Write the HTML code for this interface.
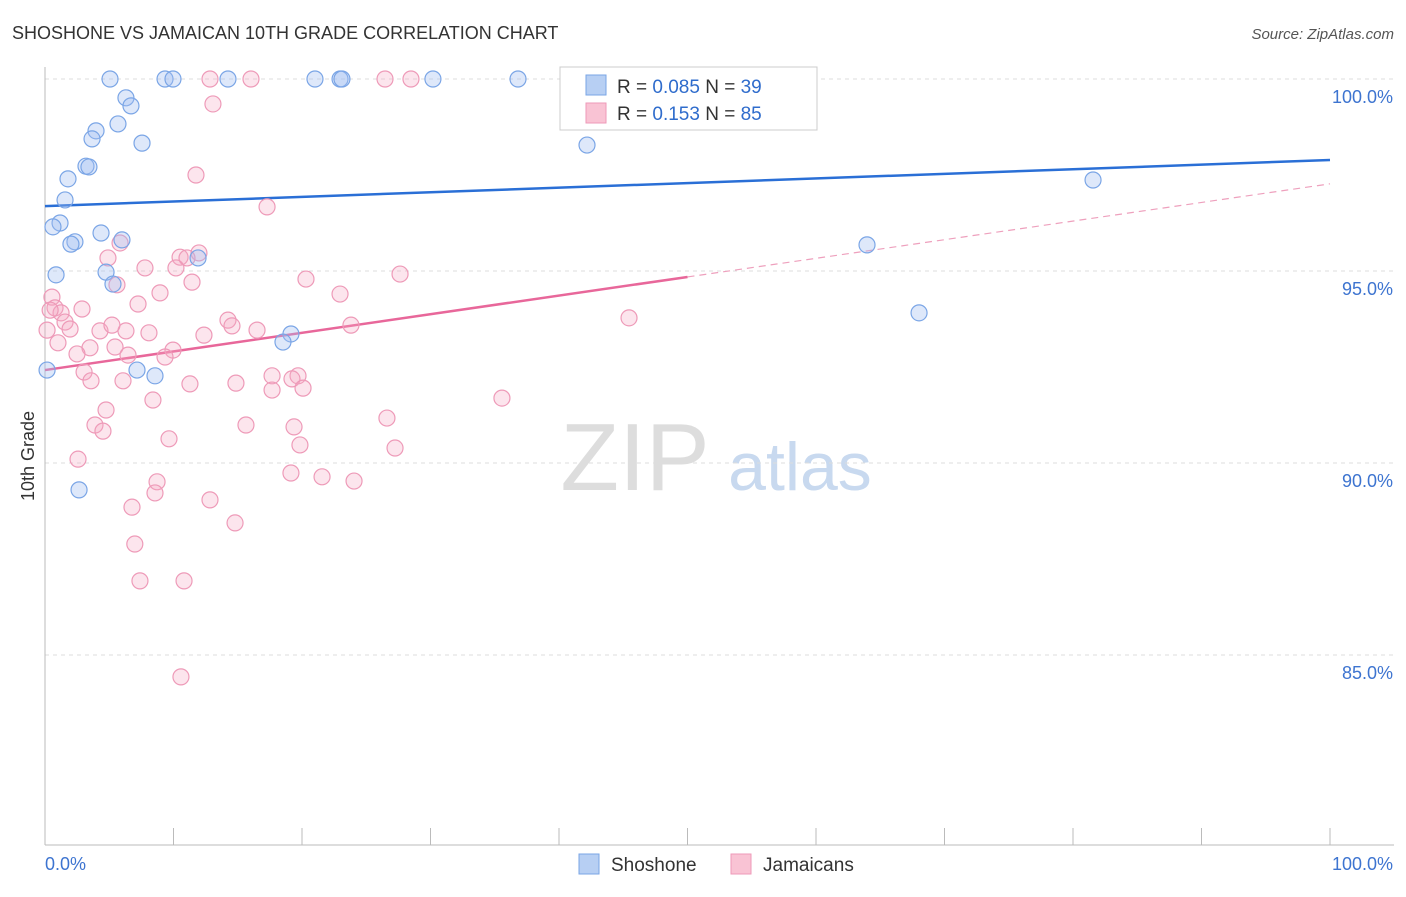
<!DOCTYPE html>
<html><head><meta charset="utf-8"><style>
body{margin:0;background:#fff;font-family:"Liberation Sans",sans-serif}
svg text{font-family:"Liberation Sans",sans-serif}
</style></head><body>
<svg id="chart" width="1406" height="892" xmlns="http://www.w3.org/2000/svg">
<text x="12" y="39" font-size="18" fill="#333">SHOSHONE VS JAMAICAN 10TH GRADE CORRELATION CHART</text>
<text x="1394" y="39" font-size="15" fill="#555" text-anchor="end" font-style="italic">Source: ZipAtlas.com</text>
<text x="34" y="456" font-size="18" fill="#333" text-anchor="middle" transform="rotate(-90 34 456)">10th Grade</text>
<g><text x="635" y="490" font-size="96" fill="#ddd" font-family="Liberation Serif" text-anchor="middle">ZIP</text><text x="800" y="490" font-size="68" fill="#c8d9ef" text-anchor="middle">atlas</text></g>
<g id="grid"></g><g id="axes"></g><g id="trend"></g><g id="pts"></g>
<g>
<rect x="560" y="67" width="257" height="63" fill="#fff" stroke="#ccc"/>
<rect x="586" y="75" width="20" height="20" fill="#b7cff3" stroke="#7aa5e6"/>
<rect x="586" y="103" width="20" height="20" fill="#f9c3d4" stroke="#ee9ab8"/>
<text x="617" y="93" font-size="19" fill="#333">R = <tspan fill="#2f6ccc">0.085</tspan>    N = <tspan fill="#2f6ccc">39</tspan></text>
<text x="617" y="120" font-size="19" fill="#333">R =  <tspan fill="#2f6ccc">0.153</tspan>    N = <tspan fill="#2f6ccc">85</tspan></text>
</g>
<g>
<rect x="579" y="854" width="20" height="20" fill="#b7cff3" stroke="#7aa5e6"/>
<text x="611" y="871" font-size="19" fill="#333">Shoshone</text>
<rect x="731" y="854" width="20" height="20" fill="#f9c3d4" stroke="#ee9ab8"/>
<text x="763" y="871" font-size="19" fill="#333">Jamaicans</text>
</g>
</svg>
<script>
const blueX=[5.06,9.34,9.96,14.24,21.01,22.96,23.11,30.19,36.81,6.30,6.69,5.68,3.97,3.66,7.55,42.18,3.19,3.42,1.79,81.56,1.56,1.17,0.62,4.36,5.99,2.33,2.02,63.97,11.91,4.75,0.86,5.29,68.02,19.14,18.52,0.16,7.16,8.56,2.65];
const blueY=[100,100,100,100,100,100,100,100,100,99.51,99.30,98.83,98.65,98.44,98.33,98.28,97.73,97.71,97.40,97.37,96.85,96.25,96.15,95.99,95.81,95.76,95.70,95.68,95.34,94.97,94.90,94.66,93.91,93.36,93.15,92.42,92.42,92.27,89.30];
const pinkX=[12.84,16.03,26.46,28.48,13.07,11.75,17.28,5.84,4.90,11.98,10.51,11.05,7.78,10.19,20.31,27.63,11.44,5.60,0.54,8.95,22.96,7.24,0.78,2.88,1.25,14.24,14.55,23.81,45.45,1.56,1.95,4.28,6.30,8.09,16.50,12.37,5.21,1.01,3.50,5.45,9.96,2.49,6.46,9.34,3.04,17.67,19.69,3.58,6.07,14.86,11.28,19.22,17.67,20.08,35.56,8.40,4.75,26.61,3.89,15.64,19.38,4.51,9.65,19.84,27.24,2.57,19.14,21.56,8.72,24.05,8.56,12.84,6.77,14.79,6.99,7.39,10.82,10.58,0.16,0.4];
const pinkY=[100,100,100,100,99.35,97.50,96.67,95.73,95.34,95.47,95.36,95.34,95.08,95.08,94.79,94.92,94.71,94.64,94.32,94.43,94.40,94.14,94.04,94.01,93.91,93.72,93.57,93.59,93.78,93.67,93.49,93.44,93.44,93.39,93.46,93.33,93.59,93.13,93.00,93.02,92.94,92.84,92.81,92.76,92.37,92.27,92.27,92.14,92.14,92.08,92.06,92.19,91.90,91.95,91.69,91.64,91.38,91.17,90.99,90.99,90.94,90.83,90.63,90.47,90.39,90.10,89.74,89.64,89.51,89.53,89.22,89.04,88.85,88.44,87.89,86.93,86.93,84.43,93.46,93.98];
const yTicks=[100,95,90,85];
const yTickLabels=["100.0%","95.0%","90.0%","85.0%"];
const blueTrend=[96.69,97.89];
const pinkTrend=[92.42,97.27];
const NS="http://www.w3.org/2000/svg";
const sx=v=>45+v*12.85, sy=v=>79+(100-v)*38.4;
function mk(tag,attrs,parent){const e=document.createElementNS(NS,tag);for(const k in attrs)e.setAttribute(k,attrs[k]);document.getElementById(parent).appendChild(e);return e;}
yTicks.forEach((t,i)=>{
 const g=mk('line',{x1:45,x2:1394,y1:sy(t),y2:sy(t),stroke:'#ddd','stroke-dasharray':'4 4'},'grid');
 
 
 const l=mk('text',{x:1393,y:sy(t)+24,'font-size':18,fill:'#3d74d0','text-anchor':'end'},'grid');
 l.textContent=yTickLabels[i];
 
 
});
mk('line',{x1:45,x2:45,y1:67,y2:845,stroke:'#bbb'},'axes');
mk('line',{x1:45,x2:1394,y1:845,y2:845,stroke:'#bbb'},'axes');
for(let i=0;i<=10;i++){const t=mk('line',{x1:sx(i*10),x2:sx(i*10),y1:828,y2:845,stroke:'#bbb'},'axes');}
const x0=mk('text',{x:45,y:870,'font-size':18,fill:'#3d74d0'},'axes');x0.textContent='0.0%';


const x1=mk('text',{x:1393,y:870,'font-size':18,fill:'#3d74d0','text-anchor':'end'},'axes');x1.textContent='100.0%';


function pts(X,Y,fill,stroke,name){X.forEach((x,i)=>{const c=mk('circle',{cx:sx(x),cy:sy(Y[i]),r:8,fill:fill,stroke:stroke,'stroke-width':1.2},'pts');

});}
pts(pinkX,pinkY,'rgba(245,170,195,0.3)','#ee9ab8','jamaican-point');
pts(blueX,blueY,'rgba(160,190,240,0.35)','#7aa5e6','shoshone-point');
const bt=mk('line',{x1:sx(0),y1:sy(blueTrend[0]),x2:sx(100),y2:sy(blueTrend[1]),stroke:'#2a6fd6','stroke-width':2.5},'trend');


const pm=(pinkTrend[0]+pinkTrend[1])/2;
const pt=mk('line',{x1:sx(0),y1:sy(pinkTrend[0]),x2:sx(50),y2:sy(pm),stroke:'#e8679a','stroke-width':2.5},'trend');


const pd=mk('line',{x1:sx(50),y1:sy(pm),x2:sx(100),y2:sy(pinkTrend[1]),stroke:'#eea0bd','stroke-width':1.2,'stroke-dasharray':'7 5'},'trend');


</script>
</body></html>
